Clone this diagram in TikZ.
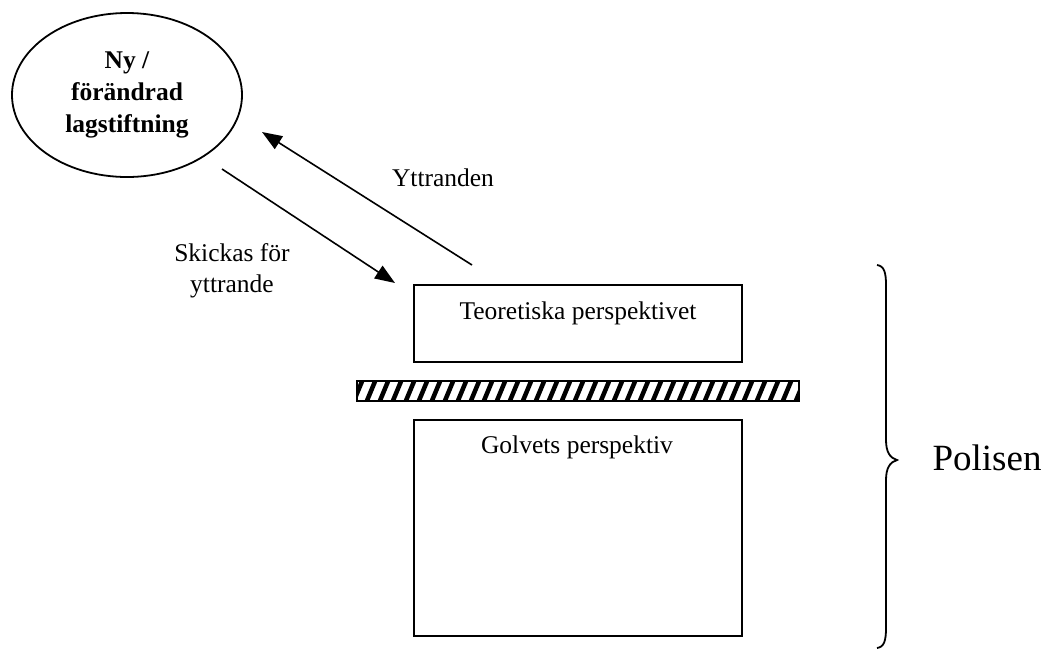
\documentclass[tikz,border=0pt]{standalone}
\usepackage{fontspec}
\setmainfont{Liberation Serif}
\usetikzlibrary{shapes.geometric,arrows.meta}
\begin{document}
\begin{tikzpicture}[x=1pt,y=-1pt,
  txt/.style={font=\fontsize{25.5}{31}\selectfont, inner sep=0pt, align=center},
  boxnode/.style={draw, line width=2pt, rectangle, inner sep=0pt},
  arr/.style={line width=1.6pt, -{Triangle[length=20pt,width=15pt]}}]
  \useasboundingbox (0,0) rectangle (1046,649);

  % legislation ellipse
  \node[draw, ellipse, line width=1.8pt, minimum width=230pt, minimum height=164pt,
        inner sep=0pt] (lag) at (127,95) {};
  \node[txt, font=\fontsize{25.5}{32}\selectfont\bfseries] (lagtxt) at (127,95)
        {Ny /\\förändrad\\lagstiftning};

  % theoretical perspective
  \node[boxnode, minimum width=328pt, minimum height=77pt] (teo) at (578,323.5) {};
  \node[txt] (teotxt) at (578,313) {Teoretiska perspektivet};

  % hatched divider
  \node[rectangle, inner sep=0pt, minimum width=442pt, minimum height=20pt] (bar) at (578,391) {};
  \begin{scope}
    \clip (bar.north west) rectangle (bar.south east);
    \foreach \x in {340,353,...,820}
      \draw[line width=4.5pt] (\x,403) -- (\x+10,379);
  \end{scope}
  \draw[line width=1.8pt] (bar.north west) rectangle (bar.south east);

  % floor perspective
  \node[boxnode, minimum width=328pt, minimum height=216pt] (golv) at (578,528) {};
  \node[txt] (golvtxt) at (577,447) {Golvets perspektiv};

  % arrows between legislation and the police
  \coordinate (ytA) at (472,265);
  \coordinate (ytB) at (262,132);
  \coordinate (skA) at (222,169);
  \coordinate (skB) at (395,283);
  \draw[arr] (ytA) -- (ytB);
  \draw[arr] (skA) -- (skB);
  \node[txt] (yt) at (443,178) {Yttranden};
  \node[txt] (sk) at (232,271) {Skickas för\\yttrande};

  % brace and label
  \draw[line width=1.8pt]
    (877,265) .. controls (884,266) and (886,272) .. (886,285)
    -- (886,440) .. controls (886,452) and (890,458) .. (897,460)
    .. controls (890,462) and (886,468) .. (886,480)
    -- (886,628) .. controls (886,641) and (884,647) .. (877,648);
  \node[txt, font=\fontsize{37}{44}\selectfont] (pol) at (987,458) {Polisen};
\end{tikzpicture}
\end{document}
